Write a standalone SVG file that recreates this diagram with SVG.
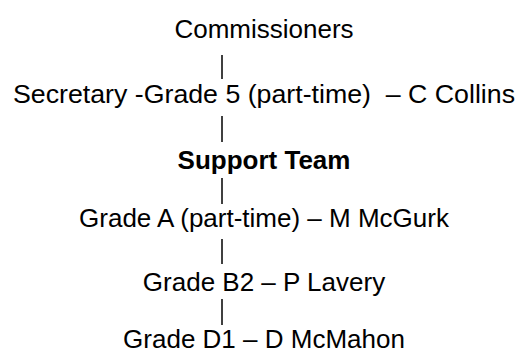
<svg xmlns="http://www.w3.org/2000/svg" width="518" height="351" viewBox="0 0 518 351">
<style>
text{font-family:"Liberation Sans",Arial,sans-serif;font-size:26px;fill:#000;text-anchor:middle}
.b{font-weight:bold}
line{stroke:#000;stroke-width:1.5}
</style>
<rect width="518" height="351" fill="#fff"/>
<g id="connectors">
<line x1="222" y1="55" x2="222" y2="79"/>
<line x1="222" y1="116" x2="222" y2="142"/>
<line x1="222" y1="178" x2="222" y2="204"/>
<line x1="222" y1="239" x2="222" y2="264"/>
<line x1="222" y1="299" x2="222" y2="325"/>
</g>
<g id="commissioners"><text x="264" y="38">Commissioners</text></g>
<g id="secretary"><text x="264" y="103" xml:space="preserve" textLength="502" lengthAdjust="spacingAndGlyphs">Secretary -Grade 5 (part-time)  – C Collins</text></g>
<g id="support-team"><text class="b" x="264" y="169">Support Team</text></g>
<g id="grade-a"><text x="264" y="227">Grade A (part-time) – M McGurk</text></g>
<g id="grade-b2"><text x="264" y="291">Grade B2 – P Lavery</text></g>
<g id="grade-d1"><text x="264" y="348">Grade D1 – D McMahon</text></g>
</svg>
